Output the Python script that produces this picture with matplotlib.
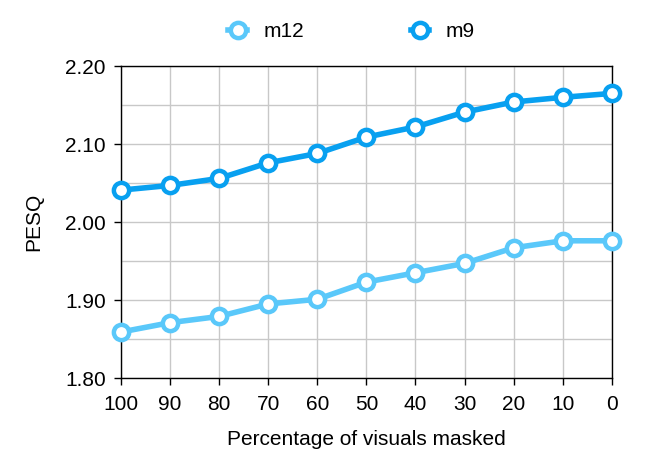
import matplotlib
matplotlib.use("Agg")
import matplotlib.pyplot as plt
from matplotlib.ticker import MultipleLocator

plt.rcParams['font.family'] = ['Liberation Sans', 'DejaVu Sans']

x_labels = ["100", "90", "80", "70", "60", "50", "40", "30", "20", "10", "0"]
m12 = [1.859, 1.871, 1.879, 1.895, 1.901, 1.923, 1.935, 1.947, 1.967, 1.976, 1.976]
m9 = [2.041, 2.047, 2.056, 2.076, 2.088, 2.109, 2.122, 2.141, 2.154, 2.160, 2.165]

fig = plt.figure(figsize=(6.65, 4.69), dpi=100)
ax = fig.add_axes([0.182, 0.194, 0.738, 0.665])
xs = list(range(len(x_labels)))

ax.plot(xs, m12, color="#5AC8FA", lw=4, marker="o", ms=11, mfc="white",
        mec="#5AC8FA", mew=3.2, label="m12", zorder=3, clip_on=False)
ax.plot(xs, m9, color="#08A0F0", lw=4, marker="o", ms=11, mfc="white",
        mec="#08A0F0", mew=3.2, label="m9", zorder=3, clip_on=False)

ax.set_xlim(0, len(x_labels) - 1)
ax.set_ylim(1.80, 2.20)
ax.set_xticks(xs)
ax.set_xticklabels(x_labels)
ax.yaxis.set_major_locator(MultipleLocator(0.1))
ax.yaxis.set_minor_locator(MultipleLocator(0.05))
ax.set_yticklabels([f"{v:.2f}" for v in ax.get_yticks()])
ax.grid(True, which="both", color="#c8c8c8", lw=1)
ax.set_axisbelow(True)
ax.tick_params(axis="both", which="major", labelsize=15, direction="out", length=5, width=1)
ax.tick_params(axis="y", which="minor", length=0)
ax.tick_params(axis="x", pad=7)
ax.tick_params(axis="y", pad=6)
for s in ax.spines.values():
    s.set_color("black")
    s.set_linewidth(1)

ax.set_xlabel("Percentage of visuals masked", fontsize=15, labelpad=12)
ax.set_ylabel("PESQ", fontsize=15, labelpad=16)

ax.legend(loc="lower center", bbox_to_anchor=(0.47, 1.02), ncol=2, frameon=False,
          fontsize=15, handlelength=0.9, columnspacing=5.1, handletextpad=0.8)

fig.savefig("out.png", dpi=100)
